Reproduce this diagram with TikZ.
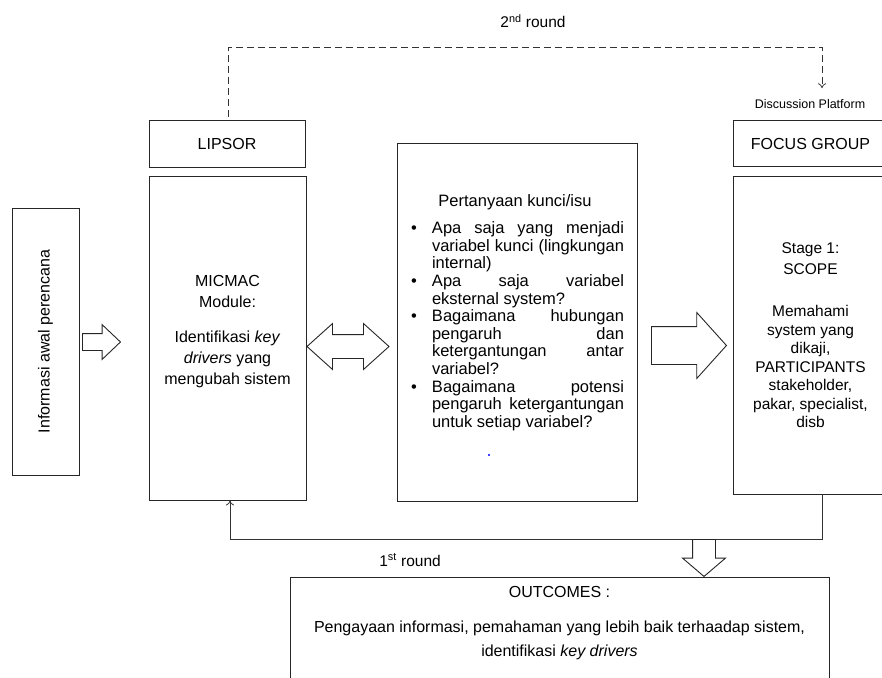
\documentclass[tikz,border=0pt]{standalone}
\usepackage{fontspec}
\setmainfont{Liberation Sans}
\usetikzlibrary{shapes.arrows, arrows.meta}

\newcommand{\mainsize}{\fontsize{16}{21}\selectfont}
\newcommand{\kbullet}{\makebox[26pt][l]{\hspace{5pt}\textbullet}}
\newcommand{\kindent}{\hspace*{26pt}}
\newcommand{\kfull}[1]{\hbox to 192pt{#1}}

\tikzset{
	box/.style = {draw=black!85, line width=0.9pt, inner sep=0pt, align=center},
	words/.style = {inner sep=0pt, align=center},
	block/.style = {draw=black!85, line width=0.9pt, inner xsep=0pt, fill=white},
	loop/.style = {draw=black!80, line width=0.8pt},
	twoloop/.style = {loop, dash pattern=on 7pt off 4pt},
	tip/.style = {-{To[length=5pt, width=8pt]}}
}

\begin{document}
\begin{tikzpicture}[x=1pt, y=-1pt]
	\useasboundingbox (0,0) rectangle (882,677);
	\clip (0,0) rectangle (882,677);

	% boxes
	\node [box, rotate=90, minimum width=267pt, minimum height=67pt, font=\mainsize] (info) at (45.5,341.5) {Informasi awal perencana};
	\node [box, minimum width=156pt, minimum height=47pt, font=\mainsize] (lipsor) at (227,143.5) {LIPSOR};
	\node [box, minimum width=157pt, minimum height=324pt] (micmac) at (227.5,338) {};
	\node [box, minimum width=240pt, minimum height=358pt] (kunci) at (517,322) {};
	\node [box, minimum width=155pt, minimum height=46pt, font=\mainsize] (focus) at (810.5,143.5) {FOCUS GROUP};
	\node [box, minimum width=155pt, minimum height=318pt, font=\fontsize{15.5}{18.5}\selectfont] (scope) at (810.5,335)
		{Stage 1:\\[3pt]SCOPE\\[23.5pt]Memahami\\system yang\\dikaji,\\PARTICIPANTS\\stakeholder,\\pakar, specialist,\\disb};
	\node [box, minimum width=539pt, minimum height=130pt] (outcomes) at (559.5,642) {};

	% texts
	\node [words, anchor=north, font=\mainsize] (micmactext) at ([yshift=-100pt]micmac.north)
		{MICMAC\\Module:\\[14pt]Identifikasi \textit{key}\\\textit{drivers} yang\\mengubah sistem};
	\node [words, align=left, anchor=north, font=\fontsize{16.5}{17.6}\selectfont] (kuncitext) at ([xshift=-2pt, yshift=-52pt]kunci.north)
		{\makebox[218pt]{Pertanyaan kunci/isu}\\[9.4pt]
		\kbullet\kfull{Apa\hfill saja\hfill yang\hfill menjadi}\\
		\kindent\kfull{variabel\hfill kunci\hfill (lingkungan}\\
		\kindent internal)\\
		\kbullet\kfull{Apa\hfill saja\hfill variabel}\\
		\kindent eksternal system?\\
		\kbullet\kfull{Bagaimana\hfill hubungan}\\
		\kindent\kfull{pengaruh\hfill dan}\\
		\kindent\kfull{ketergantungan\hfill antar}\\
		\kindent variabel?\\
		\kbullet\kfull{Bagaimana\hfill potensi}\\
		\kindent\kfull{pengaruh\hfill ketergantungan}\\
		\kindent untuk setiap variabel?};
	\node [words, anchor=north, font=\fontsize{16}{24}\selectfont] (outtext) at ([yshift=-10pt]outcomes.north)
		{OUTCOMES :\\[11pt]Pengayaan informasi, pemahaman yang lebih baik terhaadap sistem,\\identifikasi \textit{key drivers}};
	\node [words, font=\fontsize{12.5}{14}\selectfont] (disc) at (810,104) {Discussion Platform};
	\node [words, font=\fontsize{15.5}{18}\selectfont] (round2) at (533,21) {2\textsuperscript{nd} round};
	\node [words, font=\fontsize{15.5}{18}\selectfont] (round1) at (410,560) {1\textsuperscript{st} round};
	\fill [blue] (489,455) circle (1.2pt);

	% block arrows
	\node [block, single arrow, anchor=tail, minimum height=38pt, inner ysep=8pt, single arrow head extend=9pt, single arrow tip angle=87] (arrin) at (82,342) {};
	\node [block, double arrow, minimum height=82pt, inner ysep=11.5pt, double arrow head extend=11pt, double arrow tip angle=84] (arrboth) at (348,346.5) {};
	\node [block, single arrow, anchor=tail, minimum height=75pt, inner ysep=18.5pt, single arrow head extend=14pt, single arrow tip angle=96] (arrout) at (651,345.5) {};

	% rounds
	\coordinate (turn) at (822,47);
	\draw [twoloop, tip] ([xshift=1.5pt, yshift=3pt]lipsor.north) |- (turn) -- ([yshift=11pt]disc.north -| turn);
	\draw [loop, tip] ([xshift=11.5pt]scope.south) -- ++(0,45) -| ([xshift=2.5pt]micmac.south);
	\node [block, single arrow, rotate=270, anchor=tail, minimum height=37pt, inner ysep=11pt, single arrow head extend=10pt, single arrow tip angle=99] (arrdown) at (704,539) {};
\end{tikzpicture}
\end{document}
